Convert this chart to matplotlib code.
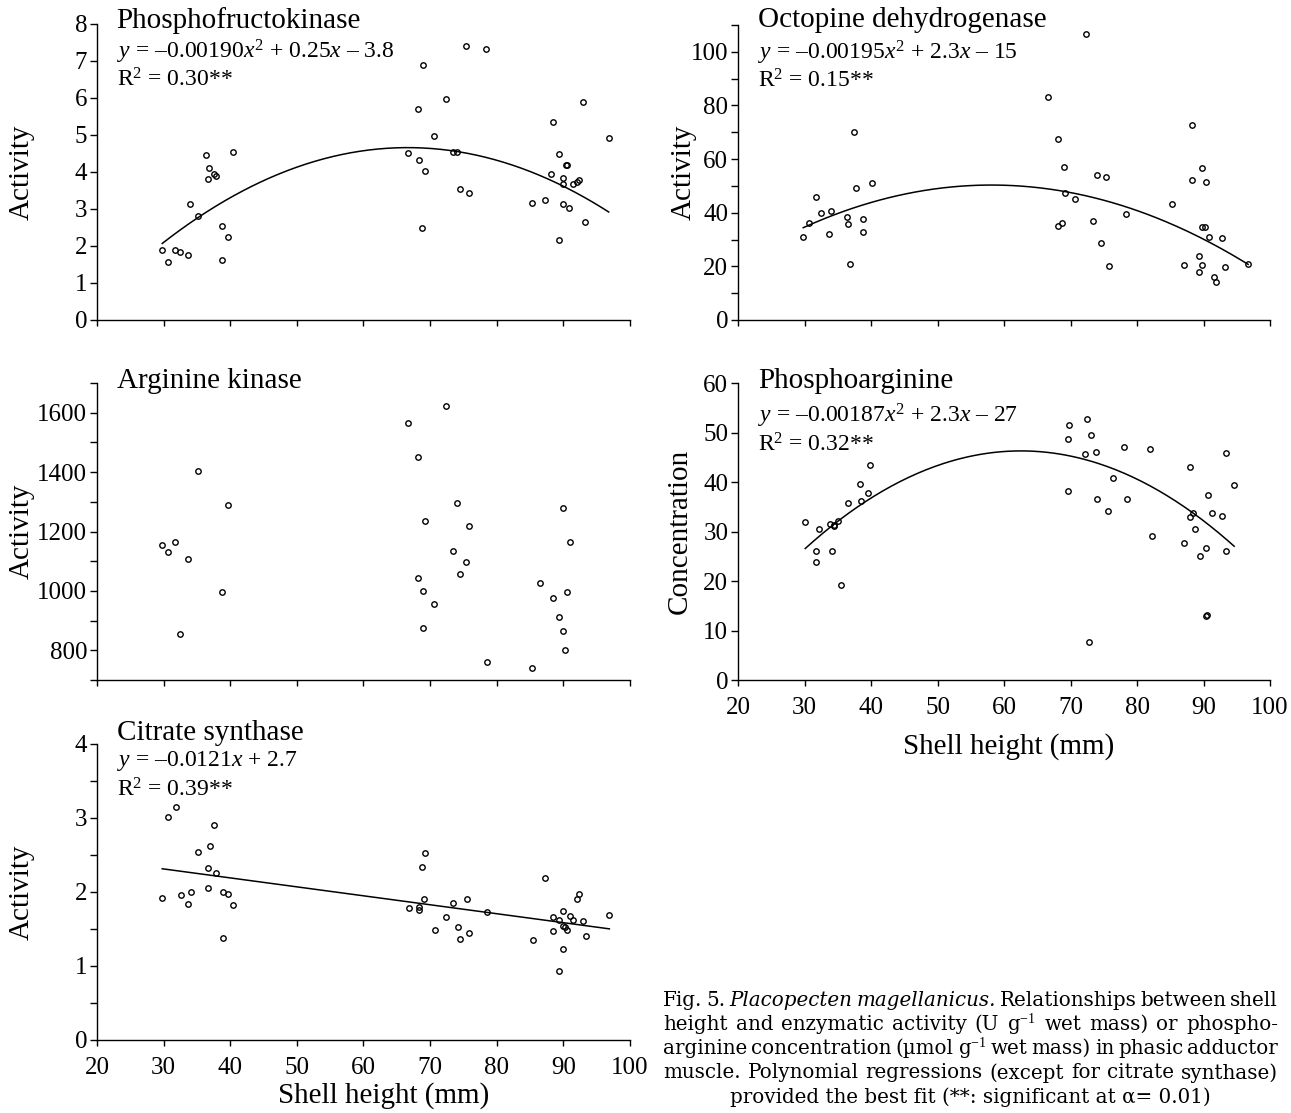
import numpy as np
import matplotlib
matplotlib.use('Agg')
import matplotlib.pyplot as plt

plt.rcParams['font.family'] = ['Liberation Serif', 'DejaVu Serif']
plt.rcParams['mathtext.fontset'] = 'custom'
plt.rcParams['mathtext.rm'] = 'Liberation Serif'
plt.rcParams['mathtext.it'] = 'Liberation Serif:italic'

# ---- data ----
pfk_x = [29.8, 30.6, 31.7, 32.5, 33.6, 34.0, 35.1, 36.4, 36.8, 36.6, 37.5, 37.8, 38.8, 38.8, 39.6, 40.4,
         66.7, 68.2, 68.3, 69.0, 68.8, 69.2, 70.6, 72.4, 73.5, 74.0, 74.5, 75.4, 75.8, 78.4,
         85.3, 87.2, 88.2, 88.4, 89.4, 89.4, 89.9, 89.9, 89.9, 90.4, 90.5, 90.9, 91.5, 92.0, 92.4, 92.9, 93.2, 96.8]
pfk_y = [1.88, 1.56, 1.88, 1.85, 1.75, 3.14, 2.82, 4.45, 4.10, 3.82, 3.95, 3.90, 2.55, 1.63, 2.23, 4.53,
         4.51, 5.70, 4.31, 6.88, 2.49, 4.02, 4.98, 5.98, 4.53, 4.53, 3.55, 7.41, 3.44, 7.31,
         3.15, 3.24, 3.95, 5.35, 4.49, 2.17, 3.83, 3.67, 3.14, 4.20, 4.20, 3.02, 3.67, 3.73, 3.77, 5.90, 2.65, 4.91]
pfk_fit = [-0.00191, 0.2545, -3.82]

odh_x = [29.8, 30.6, 31.7, 32.5, 33.6, 34.0, 36.4, 36.6, 36.8, 37.5, 37.8, 38.8, 38.8, 40.2,
         66.6, 68.1, 68.1, 68.7, 69.0, 69.1, 70.6, 72.3, 73.4, 74.0, 74.5, 75.4, 75.8, 78.3,
         85.2, 87.1, 88.3, 88.3, 89.3, 89.3, 89.8, 89.8, 89.8, 90.2, 90.4, 90.8, 91.5, 91.9, 92.7, 93.2, 96.7]
odh_y = [30.8, 36.0, 46.0, 39.9, 31.9, 40.5, 38.5, 35.8, 21.0, 70.1, 49.1, 37.8, 32.9, 51.2,
         83.2, 67.6, 35.0, 36.0, 57.0, 47.2, 45.2, 106.7, 36.8, 53.9, 28.6, 53.3, 20.1, 39.6,
         43.4, 20.5, 72.8, 52.2, 23.7, 17.9, 56.5, 34.7, 20.4, 34.7, 51.3, 30.9, 16.0, 14.2, 30.4, 19.8, 20.9]
odh_fit = [-0.01985, 2.3066, -16.7]

ak_x = [29.8, 30.6, 31.7, 32.5, 33.7, 35.1, 38.8, 39.6,
        66.7, 68.2, 68.2, 68.9, 69.0, 69.2, 70.6, 72.4, 73.5, 74.1, 74.5, 75.4, 75.9, 78.5,
        85.3, 86.5, 88.4, 89.4, 89.9, 89.9, 90.3, 90.5, 91.0]
ak_y = [1155, 1130, 1164, 855, 1108, 1404, 996, 1291,
        1564, 1452, 1042, 1001, 874, 1234, 956, 1624, 1136, 1296, 1058, 1098, 1220, 760,
        740, 1027, 976, 911, 1279, 866, 802, 998, 1166]

pa_x = [30.1, 31.7, 31.7, 32.1, 33.8, 34.2, 34.4, 34.4, 35.1, 35.5, 36.6, 38.4, 38.5, 39.6, 39.8,
        69.6, 69.6, 69.7, 72.1, 72.4, 72.8, 73.0, 73.8, 73.9, 75.6, 76.4, 78.1, 78.5, 82.0, 82.3,
        87.1, 88.0, 87.9, 88.4, 88.7, 89.5, 90.3, 90.4, 90.5, 90.7, 91.2, 92.7, 93.3, 93.4, 94.6]
pa_y = [31.9, 26.0, 23.9, 30.6, 31.6, 26.0, 31.1, 31.4, 32.2, 19.2, 35.8, 39.7, 36.2, 37.8, 43.4,
        38.1, 48.7, 51.6, 45.6, 52.8, 7.7, 49.6, 46.1, 36.5, 34.2, 40.9, 47.1, 36.5, 46.6, 29.1,
        27.7, 43.1, 32.9, 33.8, 30.6, 25.1, 26.7, 13.0, 13.1, 37.3, 33.8, 33.2, 26.0, 45.8, 39.4]
pa_fit = [-0.01874, 2.344, -27.0]

cs_x = [29.8, 30.6, 31.8, 32.6, 33.7, 34.1, 35.1, 36.6, 36.7, 36.9, 37.6, 37.9, 38.9, 38.9, 39.7, 40.4,
        66.8, 68.3, 68.3, 68.8, 69.1, 69.3, 70.7, 72.4, 73.5, 74.2, 74.5, 75.5, 75.9, 78.5,
        85.4, 87.2, 88.4, 88.5, 89.4, 89.4, 89.9, 89.9, 89.9, 90.2, 90.5, 91.0, 91.5, 92.1, 92.4, 92.9, 93.4, 96.9]
cs_y = [1.92, 3.01, 3.15, 1.96, 1.84, 2.00, 2.54, 2.05, 2.33, 2.62, 2.90, 2.25, 2.00, 1.38, 1.97, 1.83,
        1.79, 1.80, 1.75, 2.34, 1.90, 2.52, 1.49, 1.66, 1.85, 1.52, 1.36, 1.91, 1.45, 1.73,
        1.35, 2.19, 1.66, 1.47, 1.62, 0.93, 1.74, 1.54, 1.23, 1.52, 1.48, 1.68, 1.62, 1.91, 1.97, 1.61, 1.40, 1.69]
cs_fit = [-0.0121, 2.674]

x_ticks = [20, 30, 40, 50, 60, 70, 80, 90, 100]

fig = plt.figure(figsize=(12.91, 11.13), dpi=100)


def panel(rect, x, y, ylim, yticks, ylabels, title, title_y, eq=None, r2=None, fit=None,
          ylab='Activity', ylab_x=-0.116, show_x=False, xlab_xy=None, eq_y=(0.905, 0.811)):
    ax = fig.add_axes(rect)
    ax.plot(x, y, 'o', mfc='none', mec='k', ms=3.9, mew=1.0, clip_on=False)
    if fit is not None:
        xx = np.linspace(min(x), max(x), 200)
        ax.plot(xx, np.polyval(fit, xx), color='k', lw=1.1)
    ax.set_xlim(20, 100)
    ax.set_ylim(*ylim)
    ax.set_xticks(x_ticks)
    if show_x:
        ax.set_xticklabels([str(t) for t in x_ticks])
        ax.set_xlabel('Shell height (mm)', fontsize=21)
        ax.xaxis.set_label_coords(*xlab_xy)
    else:
        ax.set_xticklabels([])
    ax.set_yticks(yticks)
    ax.set_yticklabels(ylabels)
    for s in ['top', 'right']:
        ax.spines[s].set_visible(False)
    for s in ['left', 'bottom']:
        ax.spines[s].set_linewidth(1.0)
    ax.tick_params(axis='x', direction='out', length=4, width=1.0, pad=8.5, labelsize=18)
    ax.tick_params(axis='y', direction='out', length=5, width=1.0, pad=2, labelsize=18)
    ax.set_ylabel(ylab, fontsize=21)
    ax.yaxis.set_label_coords(ylab_x, 0.5)
    ax.text(0.037, title_y, title, transform=ax.transAxes, fontsize=21, va='center', ha='left')
    if eq is not None:
        ax.text(0.037, eq_y[0], eq, transform=ax.transAxes, fontsize=17, va='center', ha='left')
        ax.text(0.037, eq_y[1], r2, transform=ax.transAxes, fontsize=17, va='center', ha='left')
    return ax


panel([0.0751, 0.7125, 0.4129, 0.2660], pfk_x, pfk_y, (0, 8), range(0, 9),
      [str(v) for v in range(0, 9)], 'Phosphofructokinase', 1.013,
      eq='$y$ = –0.00190$x^2$ + 0.25$x$ – 3.8', r2='R$^2$ = 0.30**', fit=pfk_fit)

panel([0.5717, 0.7125, 0.4121, 0.2651], odh_x, odh_y, (0, 110), range(0, 111, 10),
      [str(v) if v % 20 == 0 else '' for v in range(0, 111, 10)], 'Octopine dehydrogenase', 1.017,
      eq='$y$ = –0.00195$x^2$ + 2.3$x$ – 15', r2='R$^2$ = 0.15**', fit=odh_fit, ylab_x=-0.077)

panel([0.0751, 0.3890, 0.4129, 0.2668], ak_x, ak_y, (700, 1700), range(700, 1701, 100),
      [str(v) if v % 200 == 0 else '' for v in range(700, 1701, 100)], 'Arginine kinase', 1.007)

panel([0.5717, 0.3890, 0.4121, 0.2668], pa_x, pa_y, (0, 60), range(0, 61, 10),
      [str(v) for v in range(0, 61, 10)], 'Phosphoarginine', 1.007,
      eq='$y$ = –0.00187$x^2$ + 2.3$x$ – 27', r2='R$^2$ = 0.32**', fit=pa_fit,
      ylab='Concentration', ylab_x=-0.085, show_x=True, xlab_xy=(0.509, -0.178), eq_y=(0.889, 0.791))

panel([0.0751, 0.0656, 0.4129, 0.2660], cs_x, cs_y, (0, 4), np.arange(0, 4.01, 0.5),
      [str(int(v)) if v == int(v) else '' for v in np.arange(0, 4.01, 0.5)], 'Citrate synthase', 1.037,
      eq='$y$ = –0.0121$x$ + 2.7', r2='R$^2$ = 0.39**', fit=cs_fit,
      show_x=True, xlab_xy=(0.537, -0.142), eq_y=(0.943, 0.845))

# ---- caption (justified) ----
cap_lines = [
    [('Fig.', 'normal'), ('5.', 'normal'), ('Placopecten', 'italic'), ('magellanicus.', 'italic'),
     ('Relationships', 'normal'), ('between', 'normal'), ('shell', 'normal')],
    [('height', 'normal'), ('and', 'normal'), ('enzymatic', 'normal'), ('activity', 'normal'),
     ('(U', 'normal'), ('g$^{-1}$', 'normal'), ('wet', 'normal'), ('mass)', 'normal'), ('or', 'normal'),
     ('phospho-', 'normal')],
    [('arginine', 'normal'), ('concentration', 'normal'), ('(µmol', 'normal'), ('g$^{-1}$', 'normal'),
     ('wet', 'normal'), ('mass)', 'normal'), ('in', 'normal'), ('phasic', 'normal'), ('adductor', 'normal')],
    [('muscle.', 'normal'), ('Polynomial', 'normal'), ('regressions', 'normal'), ('(except', 'normal'),
     ('for', 'normal'), ('citrate', 'normal'), ('synthase)', 'normal')],
]
cap_last = 'provided the best fit (**: significant at α= 0.01)'
cap_y = [1000, 1024, 1048, 1073, 1097]
cap_x0, cap_x1 = 663, 1278
cap_fs = 14.3

W, H = fig.bbox.width, fig.bbox.height
r = fig.canvas.get_renderer()
for words, yp in zip(cap_lines, cap_y):
    objs = [fig.text(0, 1 - yp / H, w, fontsize=cap_fs, fontstyle=st, family='DejaVu Serif',
                     va='center', ha='left') for w, st in words]
    widths = [t.get_window_extent(r).width for t in objs]
    gap = max((cap_x1 - cap_x0 - sum(widths)) / (len(objs) - 1), 3)
    xp = cap_x0
    for t, w in zip(objs, widths):
        t.set_x(xp / W)
        xp += w + gap
fig.text((cap_x0 + cap_x1) / 2 / W, 1 - cap_y[4] / H, cap_last, fontsize=cap_fs,
         family='DejaVu Serif', va='center', ha='center')

fig.savefig('out.png', dpi=100)
